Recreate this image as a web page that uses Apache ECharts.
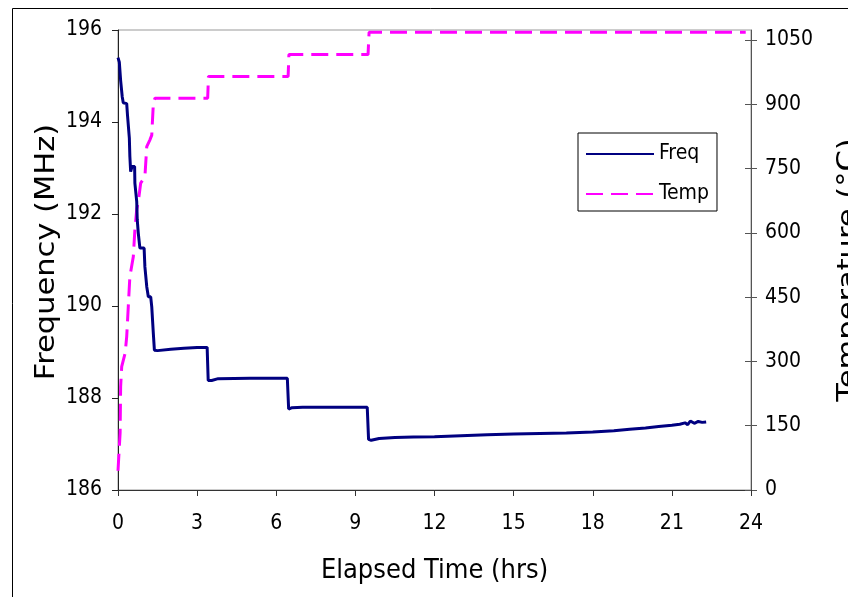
<!DOCTYPE html>
<html>
<head>
<meta charset="utf-8">
<script src="https://cdn.jsdelivr.net/npm/echarts@6/dist/echarts.min.js"></script>
<style>
  html, body { margin: 0; padding: 0; background: #fff; }
  #chart { width: 848px; height: 597px; }
</style>
</head>
<body>
<div id="chart"></div>
<script>
// Elapsed time (hrs) and resonator frequency (MHz)
const freqTime = [0, 0.05, 0.1, 0.16, 0.2, 0.33, 0.36, 0.43, 0.45, 0.48, 0.53, 0.63, 0.64, 0.71, 0.73, 0.77,
  0.83, 0.99, 1.02, 1.09, 1.15, 1.24, 1.28, 1.34, 1.38, 1.5, 2.0, 2.5, 3.0, 3.38, 3.42, 3.55, 3.8, 5.0, 6.42,
  6.47, 6.6, 7.0, 9.45, 9.5, 9.6, 9.9, 10.5, 11.2, 12.0, 13.0, 14.0, 15.0, 16.0, 17.0, 18.0, 18.8, 19.4,
  20.0, 20.5, 21.0, 21.3, 21.5, 21.6, 21.7, 21.85, 22.0, 22.15, 22.3];
const freqMHz = [195.4, 195.3, 194.9, 194.55, 194.42, 194.4, 194.15, 193.65, 193.25, 192.92, 193.03, 193.03,
  192.67, 192.27, 191.87, 191.58, 191.26, 191.26, 190.85, 190.42, 190.2, 190.2, 189.98, 189.4, 189.04, 189.03,
  189.06, 189.08, 189.1, 189.1, 188.38, 188.38, 188.42, 188.43, 188.43, 187.76, 187.79, 187.8, 187.8, 187.1,
  187.08, 187.12, 187.14, 187.15, 187.16, 187.18, 187.2, 187.22, 187.23, 187.24, 187.26, 187.29, 187.32,
  187.35, 187.38, 187.41, 187.43, 187.46, 187.42, 187.5, 187.45, 187.49, 187.47, 187.48];

// Elapsed time (hrs) and furnace temperature (°C)
const tempTime = [0, 0.08, 0.1, 0.14, 0.27, 0.33, 0.39, 0.45, 0.58, 0.64, 0.71, 0.77, 0.86, 1.02, 1.09, 1.21,
  1.28, 1.34, 1.4, 3.4, 3.43, 6.45, 6.48, 9.48, 9.52, 23.8];
const tempC = [45, 133, 241, 288, 319, 358, 428, 498, 544, 607, 655, 673, 716, 731, 801, 817, 828, 902, 914,
  914, 965, 965, 1016, 1016, 1068, 1068];

// Axis ticks
const timeTicks = [0, 3, 6, 9, 12, 15, 18, 21, 24];
const freqTicks = [186, 188, 190, 192, 194, 196];
const tempTicks = [0, 150, 300, 450, 600, 750, 900, 1050];

const seriesNames = ['Freq', 'Temp'];

const freqData = freqTime.map((t, i) => [t, freqMHz[i]]);
const tempData = tempTime.map((t, i) => [t, tempC[i]]);

const labelFont = '"DejaVu Sans Condensed", "Liberation Sans", sans-serif';
const titleFont = '"DejaVu Sans", "Liberation Sans", sans-serif';

// temperature axis top sits a little above the 1050 tick
const tempMax = 1050 * 460 / 450;

const chart = echarts.init(document.getElementById('chart'), null, { renderer: 'canvas' });

chart.setOption({
  animation: false,
  backgroundColor: '#fff',
  grid: {
    left: 118, right: 97, top: 30, bottom: 107,
    show: true, borderColor: '#999', borderWidth: 1, backgroundColor: 'transparent'
  },
  graphic: [
    {
      type: 'rect', silent: true, z: 0,
      shape: { x: 12.5, y: 8.5, width: 900, height: 700 },
      style: { fill: 'none', stroke: '#000', lineWidth: 1 }
    },
    {
      type: 'text', silent: true,
      x: 47, y: 252, rotation: Math.PI / 2, scaleX: 1.13,
      style: {
        text: 'Frequency (MHz)', font: '27px ' + titleFont, fill: '#000',
        align: 'center', verticalAlign: 'middle'
      }
    },
    {
      type: 'text', silent: true,
      x: 849, y: 270, rotation: Math.PI / 2, scaleX: 1.13,
      style: {
        text: 'Temperature (°C)', font: '27px ' + titleFont, fill: '#000',
        align: 'center', verticalAlign: 'middle'
      }
    }
  ],
  legend: {
    data: seriesNames,
    orient: 'vertical',
    left: 578, top: 133,
    padding: [10, 8, 6, 7],
    itemWidth: 68, itemHeight: 22, itemGap: 18,
    borderColor: '#000', borderWidth: 1,
    backgroundColor: '#fff',
    itemStyle: { opacity: 0 },
    textStyle: { fontFamily: labelFont, fontSize: 21, color: '#000', lineHeight: 22 }
  },
  xAxis: {
    type: 'value',
    min: timeTicks[0], max: timeTicks[timeTicks.length - 1], interval: 3,
    name: 'Elapsed Time (hrs)', nameLocation: 'middle', nameGap: 67,
    nameTextStyle: { fontFamily: labelFont, fontSize: 27, color: '#000' },
    axisLine: { lineStyle: { color: '#333', width: 1 } },
    axisTick: { inside: false, length: 6, lineStyle: { color: '#333' } },
    axisLabel: { fontFamily: labelFont, fontSize: 21, color: '#000', margin: 23 },
    splitLine: { show: false }
  },
  yAxis: [
    {
      type: 'value', position: 'left',
      min: freqTicks[0], max: freqTicks[freqTicks.length - 1], interval: 2,
      axisLine: { show: true, lineStyle: { color: '#222', width: 1 } },
      axisTick: { show: true, inside: false, length: 6, lineStyle: { color: '#222' } },
      axisLabel: { fontFamily: labelFont, fontSize: 21, color: '#000', margin: 16 },
      splitLine: { show: false }
    },
    {
      type: 'value', position: 'right',
      min: 0, max: tempMax, interval: 150,
      axisLine: { show: true, lineStyle: { color: '#555', width: 1 } },
      axisTick: { show: true, inside: false, length: 6, customValues: tempTicks, lineStyle: { color: '#555' } },
      axisLabel: {
        fontFamily: labelFont, fontSize: 21, color: '#000', margin: 14,
        customValues: tempTicks,
        formatter: v => String(Math.round(v))
      },
      splitLine: { show: false }
    },
    {
      // inner half of the crossing ticks on the temperature axis
      type: 'value', position: 'right',
      min: 0, max: tempMax, interval: 150,
      axisLine: { show: false },
      axisTick: { show: true, inside: true, length: 6, customValues: tempTicks, lineStyle: { color: '#555' } },
      axisLabel: { show: false },
      splitLine: { show: false }
    }
  ],
  series: [
    {
      name: seriesNames[0], type: 'line', yAxisIndex: 0,
      data: freqData, symbol: 'none', showSymbol: false,
      lineStyle: { color: '#000080', width: 3 },
      itemStyle: { color: '#000080' },
      z: 3
    },
    {
      name: seriesNames[1], type: 'line', yAxisIndex: 1,
      data: tempData, symbol: 'none', showSymbol: false,
      lineStyle: { color: '#ff00ff', width: 3, type: [17, 8] },
      itemStyle: { color: '#ff00ff' },
      z: 2
    }
  ]
});
</script>
</body>
</html>
